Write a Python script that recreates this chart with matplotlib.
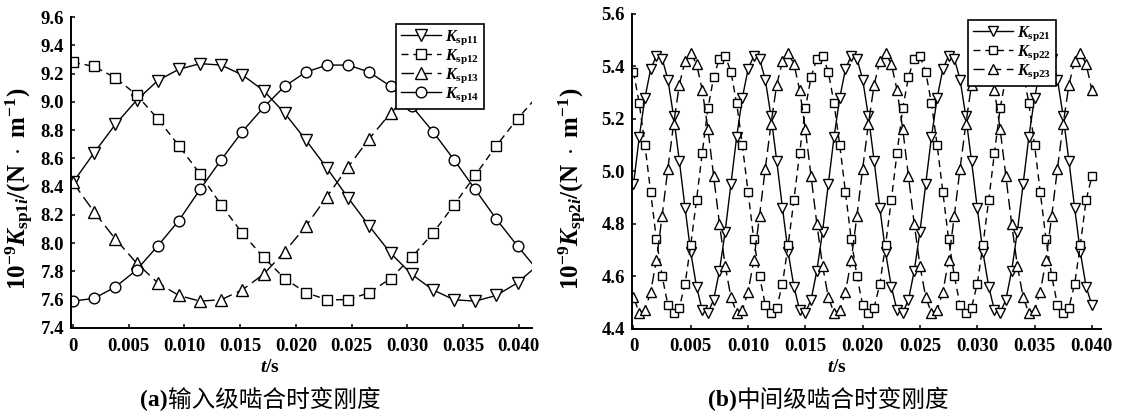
import matplotlib
matplotlib.use('Agg')
import matplotlib.pyplot as plt
import numpy as np

plt.rcParams['mathtext.fontset'] = 'custom'
plt.rcParams['mathtext.rm'] = 'Liberation Serif:bold'
plt.rcParams['mathtext.it'] = 'Liberation Serif:italic:bold'
plt.rcParams['mathtext.bf'] = 'Liberation Serif:bold'
plt.rcParams['font.family'] = ['Liberation Serif', 'Noto Sans CJK SC']

# ---------------- data: panel (a) ----------------
t_a = [0.0000, 0.0019, 0.0038, 0.0057, 0.0076, 0.0095, 0.0114, 0.0133, 0.0152,
       0.0171, 0.0190, 0.0209, 0.0228, 0.0247, 0.0266, 0.0285, 0.0304, 0.0323,
       0.0342, 0.0361, 0.0380, 0.0399, 0.0418]
k_sp11 = [8.43, 8.64, 8.84, 9.01, 9.15, 9.23, 9.27, 9.26, 9.19, 9.08, 8.92, 8.73,
          8.53, 8.32, 8.12, 7.93, 7.78, 7.67, 7.60, 7.59, 7.63, 7.72, 7.85]
k_sp12 = [9.28, 9.25, 9.17, 9.05, 8.88, 8.69, 8.49, 8.27, 8.07, 7.90, 7.75, 7.65,
          7.60, 7.60, 7.65, 7.75, 7.90, 8.07, 8.27, 8.48, 8.69, 8.88, 9.05]
k_sp13 = [8.43, 8.22, 8.03, 7.86, 7.72, 7.63, 7.59, 7.60, 7.67, 7.78, 7.94, 8.12,
          8.33, 8.54, 8.74, 8.92, 9.07, 9.18, 9.25, 9.27]
k_sp14 = [7.59, 7.61, 7.69, 7.81, 7.98, 8.16, 8.38, 8.59, 8.79, 8.96, 9.11, 9.21,
          9.26, 9.26, 9.21, 9.11, 8.97, 8.79, 8.59, 8.38, 8.17, 7.98, 7.80]

# ---------------- data: panel (b) ----------------
t_b = np.linspace(0.0, 0.040, 81)
k_sp21 = [4.95, 5.13, 5.28, 5.39, 5.44, 5.43, 5.35, 5.21, 5.04, 4.86, 4.69, 4.56, 4.47, 4.46, 4.51, 4.62, 4.77,
          4.95, 5.13, 5.28, 5.39, 5.44, 5.43, 5.35, 5.21, 5.04, 4.86, 4.69, 4.56, 4.47, 4.46, 4.51, 4.62, 4.77,
          4.95, 5.13, 5.28, 5.39, 5.44, 5.43, 5.35, 5.21, 5.04, 4.86, 4.69, 4.56, 4.47, 4.46, 4.51, 4.62, 4.77,
          4.95, 5.13, 5.28, 5.39, 5.44, 5.43, 5.35, 5.21, 5.04, 4.86, 4.69, 4.56, 4.47, 4.46, 4.51, 4.62, 4.77,
          4.95, 5.13, 5.28, 5.39, 5.44, 5.43, 5.35, 5.21, 5.04, 4.86, 4.69, 4.56, 4.49]
k_sp22 = [5.38, 5.26, 5.10, 4.92, 4.74, 4.60, 4.49, 4.46, 4.48, 4.57, 4.72, 4.89, 5.07, 5.24, 5.36, 5.43, 5.44,
          5.38, 5.26, 5.10, 4.92, 4.74, 4.60, 4.49, 4.46, 4.48, 4.57, 4.72, 4.89, 5.07, 5.24, 5.36, 5.43, 5.44,
          5.38, 5.26, 5.10, 4.92, 4.74, 4.60, 4.49, 4.46, 4.48, 4.57, 4.72, 4.89, 5.07, 5.24, 5.36, 5.43, 5.44,
          5.38, 5.26, 5.10, 4.92, 4.74, 4.60, 4.49, 4.46, 4.48, 4.57, 4.72, 4.89, 5.07, 5.24, 5.36, 5.43, 5.44,
          5.38, 5.26, 5.10, 4.92, 4.74, 4.60, 4.49, 4.46, 4.48, 4.57, 4.72, 4.89, 4.98]
k_sp23 = [4.52, 4.46, 4.47, 4.54, 4.66, 4.83, 5.01, 5.18, 5.33, 5.42, 5.45, 5.41, 5.31, 5.16, 4.98, 4.80, 4.64,
          4.52, 4.46, 4.47, 4.54, 4.66, 4.83, 5.01, 5.18, 5.33, 5.42, 5.45, 5.41, 5.31, 5.16, 4.98, 4.80, 4.64,
          4.52, 4.46, 4.47, 4.54, 4.66, 4.83, 5.01, 5.18, 5.33, 5.42, 5.45, 5.41, 5.31, 5.16, 4.98, 4.80, 4.64,
          4.52, 4.46, 4.47, 4.54, 4.66, 4.83, 5.01, 5.18, 5.33, 5.42, 5.45, 5.41, 5.31, 5.16, 4.98, 4.80, 4.64,
          4.52, 4.46, 4.47, 4.54, 4.66, 4.83, 5.01, 5.18, 5.33, 5.42, 5.45, 5.41, 5.31]

x_ticks = [0, 0.005, 0.010, 0.015, 0.020, 0.025, 0.030, 0.035, 0.040]
x_ticklabels = ['0', '0.005', '0.010', '0.015', '0.020', '0.025', '0.030', '0.035', '0.040']
y_ticks_a = [7.4, 7.6, 7.8, 8.0, 8.2, 8.4, 8.6, 8.8, 9.0, 9.2, 9.4, 9.6]
y_ticks_b = [4.4, 4.6, 4.8, 5.0, 5.2, 5.4, 5.6]

W, H = 1123, 417
fig = plt.figure(figsize=(W / 100, H / 100), dpi=100)
axA = fig.add_axes([71 / W, (H - 328) / H, 461 / W, 311 / H])
axB = fig.add_axes([632 / W, (H - 328.5) / H, 469 / W, 314.5 / H])

TICKFONT = dict(family='Liberation Serif', weight='bold', size=13.5)


def style(ax, xlim, ylim, yticks):
    for s in ['top', 'right']:
        ax.spines[s].set_visible(False)
    for s in ['left', 'bottom']:
        ax.spines[s].set_linewidth(1.4)
    ax.set_xlim(*xlim)
    ax.set_ylim(*ylim)
    ax.set_xticks(x_ticks)
    ax.set_xticklabels(x_ticklabels, fontdict=TICKFONT)
    ax.set_yticks(yticks)
    ax.set_yticklabels(['%.1f' % v for v in yticks], fontdict=TICKFONT)
    ax.tick_params(direction='in', length=3, width=1.1, pad=5)
    ax.tick_params(axis='x', pad=7)


lw = 1.0
mew = 1.0
common = dict(color='black', lw=lw, mfc='white', mec='black', mew=mew)

axA.plot(t_a, k_sp11, marker='v', ms=8, ls='-', label=r'$K_{\mathrm{sp11}}$', **common)
axA.plot(t_a, k_sp12, marker='s', ms=6.5, ls=(0, (5, 3.5)), label=r'$K_{\mathrm{sp12}}$', **common)
axA.plot(t_a[:len(k_sp13)], k_sp13, marker='^', ms=8, ls=(0, (9, 4)), label=r'$K_{\mathrm{sp13}}$', **common)
axA.plot(t_a, k_sp14, marker='o', ms=7.7, ls='-', label=r'$K_{\mathrm{sp14}}$', **common)
style(axA, (-0.00018, 0.0412), (7.4, 9.6), y_ticks_a)

axB.plot(t_b, k_sp21, marker='v', ms=6.8, ls='-', label=r'$K_{\mathrm{sp21}}$', **common)
axB.plot(t_b, k_sp22, marker='s', ms=5.3, ls=(0, (5, 3.5)), label=r'$K_{\mathrm{sp22}}$', **common)
axB.plot(t_b, k_sp23, marker='^', ms=6.8, ls=(0, (8, 4)), label=r'$K_{\mathrm{sp23}}$', **common)
style(axB, (-0.00013, 0.0408), (4.4, 5.6), y_ticks_b)

for ax in (axA, axB):
    ax.set_xlabel(r'$t/\mathrm{s}$', fontsize=14, labelpad=2)

axA.xaxis.set_label_coords((270 - 71) / 461, -(367 - 328) / 311)
axB.xaxis.set_label_coords((837 - 632) / 469, -(367 - 328.5) / 314.5)
axA.xaxis.label.set_va('center')
axB.xaxis.label.set_va('center')

ylab1 = r'$10^{-9}K_{\mathrm{sp1}i}/(\mathrm{N}\ \cdot\ \mathrm{m}^{-1})$'
ylab2 = r'$10^{-9}K_{\mathrm{sp2}i}/(\mathrm{N}\ \cdot\ \mathrm{m}^{-1})$'
fig.text(19.5 / W, 1 - 189 / H, ylab1, rotation=90, ha='center', va='center', fontsize=18)
fig.text(573 / W, 1 - 189 / H, ylab2, rotation=90, ha='center', va='center', fontsize=18)

leg_kw = dict(loc='upper left', bbox_transform=fig.transFigure, fancybox=False,
              edgecolor='black', framealpha=1, fontsize=11.5, borderpad=0.3,
              labelspacing=0.02, handlelength=2.5, handletextpad=0.25, borderaxespad=0)
legA = axA.legend(bbox_to_anchor=(396 / W, 1 - 24 / H), **leg_kw)
legB = axB.legend(bbox_to_anchor=(968 / W, 1 - 20 / H), **leg_kw)
for lg in (legA, legB):
    lg.get_frame().set_linewidth(1.2)

# captions
cap_y = 1 - 400 / H
fig.text(168 / W, cap_y, '(a)', ha='right', va='center', fontsize=17,
         family='Liberation Serif', weight='bold')
fig.text(168 / W, cap_y, '输入级啮合时变刚度', ha='left', va='center', fontsize=17,
         family='Noto Sans CJK SC')
fig.text(737 / W, cap_y, '(b)', ha='right', va='center', fontsize=17,
         family='Liberation Serif', weight='bold')
fig.text(737 / W, cap_y, '中间级啮合时变刚度', ha='left', va='center', fontsize=17,
         family='Noto Sans CJK SC')

fig.savefig('out.png', dpi=100)
